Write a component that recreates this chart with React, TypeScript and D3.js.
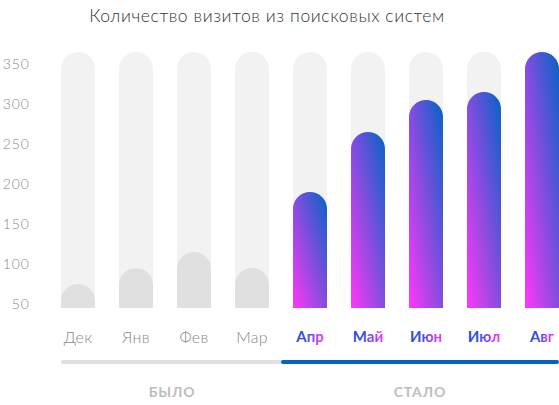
import React from "react";
import * as d3 from "d3";

const months = ["Дек", "Янв", "Фев", "Мар", "Апр", "Май", "Июн", "Июл", "Авг"];
const visits = [70, 90, 110, 90, 185, 260, 300, 310, 360];
const isAfter = [false, false, false, false, true, true, true, true, true];
const yTicks = [50, 100, 150, 200, 250, 300, 350];
const title = "Количество визитов из поисковых систем";
const beforeLabel = "БЫЛО";
const afterLabel = "СТАЛО";

const W = 559;
const H = 405;

export default function App() {
  const x = d3
    .scaleBand<string>()
    .domain(months)
    .range([61, 559])
    .paddingInner(24 / 58)
    .paddingOuter(0);
  const y = d3.scaleLinear().domain([40, 360]).range([308, 52]);
  const bw = x.bandwidth();
  const r = bw / 2;
  const y0 = y(40);

  const barPath = (v: number, xi: number) => {
    const top = y(v);
    const p = d3.path();
    p.moveTo(xi, y0);
    p.lineTo(xi, top + r);
    p.arc(xi + r, top + r, r, Math.PI, 0);
    p.lineTo(xi + bw, y0);
    p.closePath();
    return p.toString();
  };

  const firstAfter = months[isAfter.indexOf(true)];
  const lastBefore = months[isAfter.lastIndexOf(false)];
  const split = ((x(lastBefore) as number) + bw + (x(firstAfter) as number)) / 2 + 2;
  const lineStart = x(months[0]) as number;
  const lineEnd = W - 2;
  const lineY = 362;

  return (
    <svg
      width={W}
      height={H}
      style={{ position: "absolute", left: 0, top: 0, background: "#fff" }}
      fontFamily="Lato, 'Open Sans', sans-serif"
    >
      <defs>
        <linearGradient id="barGrad" x1="0" y1="1" x2="1" y2="0">
          <stop offset="0%" stopColor="#ff38f8" />
          <stop offset="100%" stopColor="#0563c6" />
        </linearGradient>
        <linearGradient id="textGrad" x1="0" y1="0" x2="1" y2="0">
          <stop offset="0%" stopColor="#1f4fd6" />
          <stop offset="35%" stopColor="#3a50e0" />
          <stop offset="100%" stopColor="#ff38fa" />
        </linearGradient>
      </defs>

      <text
        x={267}
        y={22}
        textAnchor="middle"
        fontSize={17.5}
        fontWeight={300}
        letterSpacing={0.6}
        fill="#333"
      >
        {title}
      </text>

      {yTicks.map((t) => (
        <text
          key={t}
          x={30}
          y={y(t) + 3.7}
          textAnchor="end"
          dominantBaseline="central"
          fontSize={14}
          fontWeight={300}
          letterSpacing={1}
          fill="#888"
        >
          {t}
        </text>
      ))}

      {months.map((m) => (
        <path key={"bg" + m} d={barPath(360, x(m) as number)} fill="#f2f2f2" />
      ))}
      {months.map((m, i) => (
        <path
          key={"v" + m}
          d={barPath(visits[i], x(m) as number)}
          fill={isAfter[i] ? "url(#barGrad)" : "#e0e0e0"}
        />
      ))}

      {months.map((m, i) => (
        <text
          key={"l" + m}
          x={(x(m) as number) + bw / 2}
          y={336}
          textAnchor="middle"
          dominantBaseline="central"
          fontSize={isAfter[i] ? 15 : 16}
          fontWeight={isAfter[i] ? 700 : 300}
          letterSpacing={isAfter[i] ? 0 : 0.3}
          fill={isAfter[i] ? "url(#textGrad)" : "#888"}
        >
          {m}
        </text>
      ))}

      <line
        x1={lineStart + 2}
        x2={split}
        y1={lineY}
        y2={lineY}
        stroke="#e0e0e0"
        strokeWidth={4}
        strokeLinecap="round"
      />
      <line
        x1={split}
        x2={lineEnd}
        y1={lineY}
        y2={lineY}
        stroke="#0563c6"
        strokeWidth={4}
        strokeLinecap="round"
      />

      <text
        x={(lineStart + split) / 2}
        y={391}
        textAnchor="middle"
        dominantBaseline="central"
        fontSize={14}
        fontWeight={700}
        letterSpacing={0.8}
        fill="#bdbdbd"
      >
        {beforeLabel}
      </text>
      <text
        x={(split + lineEnd) / 2}
        y={391}
        textAnchor="middle"
        dominantBaseline="central"
        fontSize={14}
        fontWeight={700}
        letterSpacing={0.8}
        fill="#bdbdbd"
      >
        {afterLabel}
      </text>
    </svg>
  );
}
